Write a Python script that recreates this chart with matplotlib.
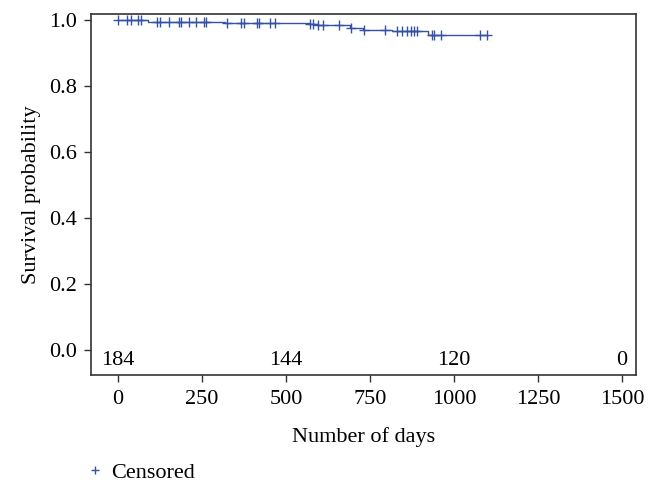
import matplotlib
matplotlib.use('Agg')
import matplotlib.pyplot as plt
import numpy as np

# Kaplan-Meier step curve (event times in days, survival after each step)
step_days = [0, 88, 318, 571, 592, 690, 729, 815, 922]
step_surv = [1.0, 0.995, 0.991, 0.988, 0.985, 0.976, 0.971, 0.965, 0.955]
end_day = 1098

# censored observations (days)
censor_days = [0, 27, 37, 60, 68, 116, 124, 151, 181, 187, 212, 233, 255, 261,
               323, 367, 374, 412, 420, 452, 467, 571, 581, 595, 611, 658, 692,
               732, 794, 829, 844, 859, 871, 881, 889, 936, 940, 960, 1077, 1097]

# numbers at risk
risk_days = [0, 500, 1000, 1500]
risk_counts = ['184', '144', '120', '0']

line_col = '#3553a0'
plt.rcParams['font.family'] = ['Liberation Serif', 'DejaVu Serif']

fig = plt.figure(figsize=(6.56, 4.95), dpi=100)
ax = fig.add_axes([0.1387, 0.2424, 0.8308, 0.7293])

xs = step_days + [end_day]
ys = step_surv + [step_surv[-1]]
ax.step(xs, ys, where='post', color=line_col, lw=1.0)

idx = np.searchsorted(step_days, censor_days, side='right') - 1
cens_y = np.array(step_surv)[idx]
ax.plot(censor_days, cens_y, ls='none', marker='+', ms=7, mew=1.0,
        color=line_col, label='Censored')

for d, c in zip(risk_days, risk_counts):
    ax.text(d, -0.032, c, ha='center', va='center', fontsize=16)

ax.set_xlim(-81, 1542)
ax.set_ylim(-0.076, 1.018)
ax.set_xticks([0, 250, 500, 750, 1000, 1250, 1500])
ax.set_yticks([0.0, 0.2, 0.4, 0.6, 0.8, 1.0])
ax.set_yticklabels(['0.0', '0.2', '0.4', '0.6', '0.8', '1.0'])
ax.tick_params(labelsize=16, length=5, width=1, color='#333333')
ax.tick_params(axis='x', pad=6)
ax.tick_params(axis='y', pad=5)
ax.set_xlabel('Number of days', fontsize=16, labelpad=13)
ax.set_ylabel('Survival probability', fontsize=16, labelpad=6)
for s in ax.spines.values():
    s.set_color('#333333')
    s.set_linewidth(1.2)

h, l = ax.get_legend_handles_labels()
fig.legend(h, l, loc='center left', bbox_to_anchor=(0.131, 0.046), frameon=False,
           fontsize=16, handlelength=0.8, handletextpad=0.35, markerscale=0.8,
           borderpad=0, borderaxespad=0)

fig.savefig('out.png', dpi=100)
